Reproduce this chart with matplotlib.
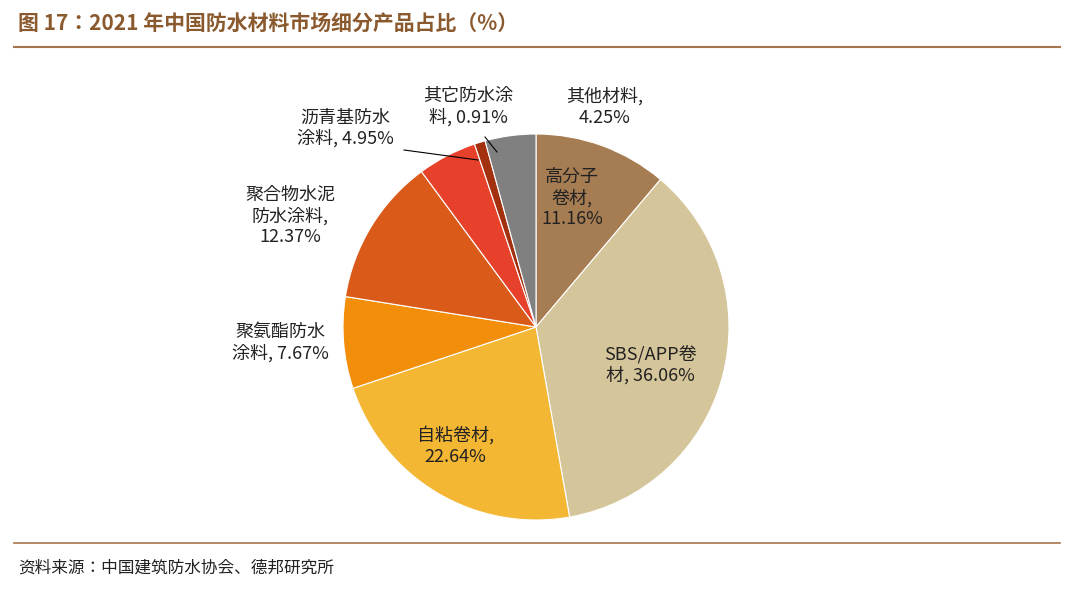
import matplotlib.pyplot as plt
from matplotlib.lines import Line2D

plt.rcParams["font.family"] = "sans-serif"
plt.rcParams["font.sans-serif"] = ["Noto Sans CJK SC", "Noto Sans CJK JP", "DejaVu Sans"]

labels = ["高分子\n卷材,\n11.16%", "SBS/APP卷\n材, 36.06%", "自粘卷材,\n22.64%",
          "聚氨酯防水\n涂料, 7.67%", "聚合物水泥\n防水涂料,\n12.37%",
          "沥青基防水\n涂料, 4.95%", "其它防水涂\n料, 0.91%", "其他材料,\n4.25%"]
values = [11.16, 36.06, 22.64, 7.67, 12.37, 4.95, 0.91, 4.25]
colors = ["#A67C52", "#D5C59B", "#F3B734", "#F28E0A", "#D95A19", "#E8412B", "#A3300E", "#808080"]
# label centres in pixels of the reference
label_px = [(572, 198), (650, 365), (455, 446), (280, 343), (290, 216),
            (345, 128), (468, 107), (605, 107)]

W, H = 1080, 594
fig = plt.figure(figsize=(W / 100, H / 100), dpi=100)
cx, cy, r = 536, 327, 193
ax = fig.add_axes([(cx - r) / W, (H - cy - r) / H, 2 * r / W, 2 * r / H])
ax.pie(values, colors=colors, startangle=90, counterclock=False,
       wedgeprops=dict(linewidth=0.8, edgecolor="white"))
ax.set_xlim(-1, 1)
ax.set_ylim(-1, 1)

for lab, (px, py) in zip(labels, label_px):
    fig.text(px / W, 1 - py / H, lab, ha="center", va="center", fontsize=13,
             color="#222222", linespacing=1.2)

# leader lines
for (x0, y0), (x1, y1) in [((404, 150), (478, 160)), ((485, 137), (497, 152))]:
    fig.add_artist(Line2D([x0 / W, x1 / W], [1 - y0 / H, 1 - y1 / H], color="black", lw=0.8))

brown = "#A5754D"
fig.text(18 / W, 1 - 24 / H, "图 17：2021 年中国防水材料市场细分产品占比（%）", fontsize=15,
         fontweight="bold", color="#8A5A2E", va="center")
fig.add_artist(Line2D([14 / W, 1060 / W], [1 - 47 / H] * 2, color=brown, lw=1.5))
fig.add_artist(Line2D([14 / W, 1060 / W], [1 - 543 / H] * 2, color=brown, lw=1.2))
fig.text(18 / W, 1 - 568 / H, "资料来源：中国建筑防水协会、德邦研究所", fontsize=12,
         color="#222222", va="center")

fig.savefig("out.png", dpi=100)
